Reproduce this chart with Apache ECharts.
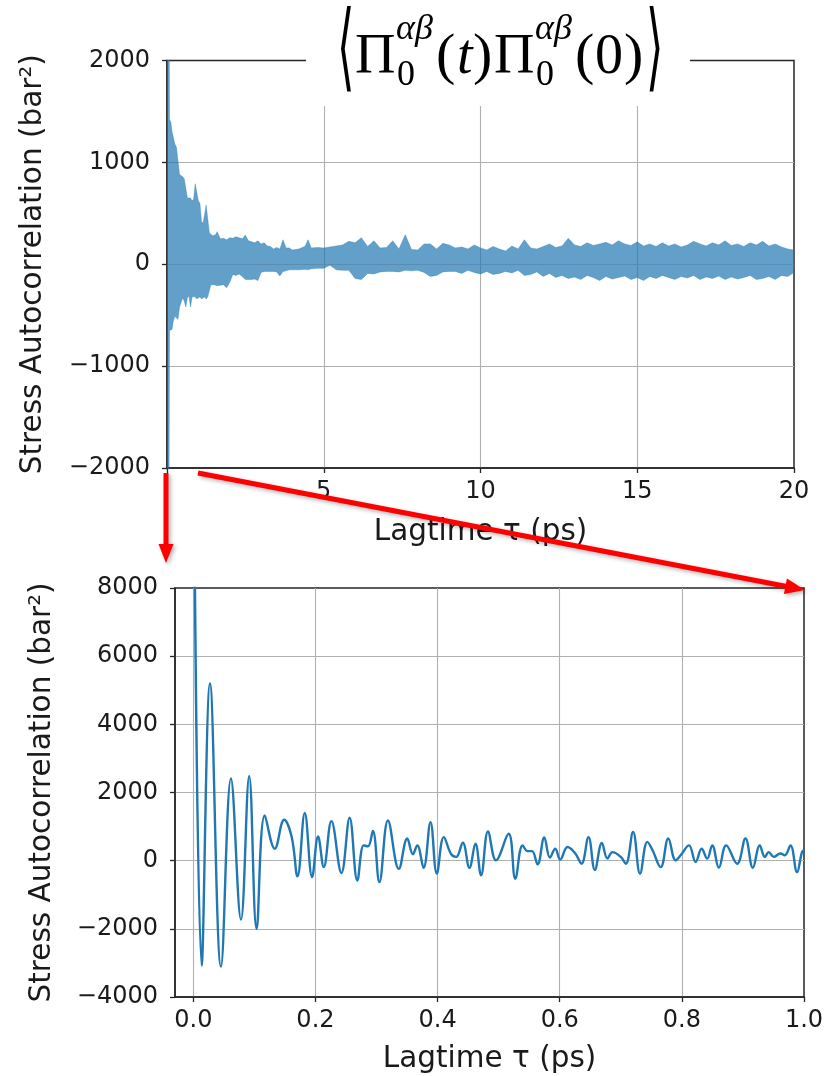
<!DOCTYPE html>
<html>
<head>
<meta charset="utf-8">
<script src="https://cdn.jsdelivr.net/npm/echarts@6.0.0/dist/echarts.min.js"></script>
<style>
html,body{margin:0;padding:0;background:#ffffff;}
#chart{width:827px;height:1076px;}
</style>
</head>
<body>
<div id="chart"></div>
<script>
// ---------- DATA ----------
// Top panel: envelope (upper / lower edge) of the dense autocorrelation trace, 0-20 ps
const topTime = [0.00,0.04,0.08,0.12,0.16,0.20,0.25,0.30,0.35,0.40,0.45,0.50,0.55,0.60,0.65,0.70,0.75,0.80,0.85,0.90,0.95,1.00,1.05,1.10,1.15,1.20,1.25,1.30,1.35,1.40,1.45,1.50,1.55,1.60,1.65,1.70,1.80,1.90,2.00,
  2.1,2.2,2.3,2.4,2.5,2.6,2.7,2.8,2.9,3.0,3.1,3.2,3.3,3.4,3.5,3.6,3.7,3.8,3.9,4.0,4.2,4.4,4.5,4.6,4.8,5.0,5.2,5.4,5.6,5.8,6.0,6.2,6.4,6.6,6.8,7.0,7.2,7.4,7.6,7.8,8.0,8.2,8.4,8.6,8.8,9.0,9.2,9.4,9.6,9.8,
  10.0,10.2,10.4,10.6,10.8,11.0,11.2,11.4,11.6,11.8,12.0,12.2,12.4,12.6,12.8,13.0,13.2,13.4,13.6,13.8,14.0,14.2,14.4,14.6,14.8,15.0,15.2,15.4,15.6,15.8,16.0,16.2,16.4,16.6,16.8,17.0,17.2,17.4,17.6,17.8,18.0,18.2,18.4,18.6,18.8,19.0,19.2,19.4,19.6,19.8,20.0];
const topHigh = [9000,9000,1420,1400,1300,1250,1180,1150,1150,880,870,860,840,830,650,640,650,620,640,790,780,620,600,420,400,410,580,570,310,300,280,270,290,320,330,250,255,240,260,
  255,270,260,250,285,230,220,210,230,200,210,180,175,150,165,150,240,160,160,140,150,175,240,160,165,160,170,180,190,225,210,260,175,230,160,165,230,150,290,145,140,200,200,150,205,190,160,170,150,190,
  160,140,175,150,130,180,150,240,160,150,175,200,165,180,255,190,175,210,185,200,215,190,230,200,185,220,180,200,175,210,180,200,170,190,225,200,180,210,190,230,185,200,175,210,190,225,180,200,170,150,140];
const topLow = [-9000,-9000,-650,-640,-640,-560,-510,-520,-540,-420,-430,-330,-360,-420,-330,-310,-420,-320,-330,-320,-340,-330,-320,-340,-330,-320,-340,-320,-310,-200,-210,-200,-190,-210,-200,-205,-200,-230,-180,
  -100,-110,-95,-120,-150,-150,-150,-145,-160,-80,-70,-70,-70,-70,-75,-115,-70,-65,-55,-55,-55,-50,-55,-45,-40,-40,-10,-55,-60,-60,-140,-150,-90,-95,-75,-70,-70,-75,-60,-65,-60,-80,-120,-110,-75,-70,-70,-90,-60,-80,
  -95,-70,-100,-90,-70,-85,-60,-110,-100,-75,-120,-90,-130,-110,-140,-125,-150,-110,-130,-160,-120,-145,-130,-115,-150,-130,-160,-120,-140,-110,-130,-150,-120,-135,-110,-150,-125,-140,-115,-150,-125,-145,-130,-110,-150,-140,-120,-150,-110,-120,-80];

// Bottom panel: first picosecond of the same autocorrelation (peaks and troughs)
const zoomTime = [0.000,0.0137,0.0273,0.0453,0.0616,0.0780,0.0915,0.1036,0.1170,0.1335,0.1487,0.1610,0.1706,0.1825,0.1945,0.2043,0.2136,0.2261,0.2425,0.2560,
  0.2686,0.2790,0.2860,0.2940,0.3047,0.3187,0.3366,0.3503,0.3595,0.3667,0.3770,0.3884,0.3987,0.4102,0.4222,0.4304,0.4412,0.4521,0.4620,0.4712,
  0.4825,0.4957,0.5163,0.5273,0.5392,0.5474,0.5546,0.5637,0.5747,0.5840,0.5926,0.6008,0.6128,0.6253,0.6356,0.6471,0.6575,0.6690,0.6781,0.6863,
  0.7000,0.7082,0.7201,0.7315,0.7435,0.7516,0.7653,0.7778,0.7899,0.7980,0.8116,0.8225,0.8324,0.8415,0.8497,0.8606,0.8725,0.8905,0.9042,0.9162,
  0.9276,0.9358,0.9423,0.9505,0.9614,0.9685,0.9778,0.9886,0.9967,1.0000];
const zoomValue = [14000,-3080,5200,-3110,2410,-1730,2480,-2000,1330,350,1200,700,-460,1400,-480,710,-190,1160,-360,1260,
  -580,450,420,870,-630,1180,-240,650,190,450,-210,1130,-380,690,190,110,530,-210,500,-430,
  855,10,790,-530,450,280,280,-110,680,90,350,30,400,220,-90,690,-270,520,60,250,
  110,-90,840,-380,550,320,-190,650,10,160,450,-40,350,60,450,-210,450,-90,650,-210,
  450,110,250,110,210,160,450,-340,250,300];

// Tick labels
const topXTickValues = [5, 10, 15, 20];
const topXTickLabels = ['5', '10', '15', '20'];
const topYTickValues = [-2000, -1000, 0, 1000, 2000];
const topYTickLabels = ['\u22122000', '\u22121000', '0', '1000', '2000'];
const zoomXTickValues = [0, 0.2, 0.4, 0.6, 0.8, 1.0];
const zoomXTickLabels = ['0.0', '0.2', '0.4', '0.6', '0.8', '1.0'];
const zoomYTickValues = [-4000, -2000, 0, 2000, 4000, 6000, 8000];
const zoomYTickLabels = ['\u22124000', '\u22122000', '0', '2000', '4000', '6000', '8000'];

const xName = 'Lagtime \u03c4 (ps)';
const yName = 'Stress Autocorrelation (bar\u00b2)';

// ---------- CHART ----------
const FONT = 'DejaVu Sans';
const INK = '#1a1a1a';
const SPINE = '#262626';
const SERIF = 'Liberation Serif';
const TICK_FS = 24;

function lookup(values, labels) {
  return function (v) {
    for (let i = 0; i < values.length; i++) {
      if (Math.abs(values[i] - v) < 1e-6) return labels[i];
    }
    return '';
  };
}

function axisCommon() {
  return {
    type: 'value',
    axisLine: { show: true, onZero: false, lineStyle: { color: SPINE, width: 1.5 } },
    axisTick: { show: true, inside: false, length: 5, lineStyle: { color: SPINE, width: 1.3 } },
    splitLine: { show: true, showMinLine: false, showMaxLine: false, lineStyle: { color: '#b0b0b0', width: 1.1 } },
    nameMoveOverlap: false,
    nameLocation: 'middle',
    nameTextStyle: { fontFamily: FONT, fontSize: 29.5, color: INK }
  };
}

const chart = echarts.init(document.getElementById('chart'), null, { renderer: 'canvas' });

const textBase = { fill: '#000', textAlign: 'left', textVerticalAlign: 'middle', align: 'left', verticalAlign: 'middle' };
function tx(x, y, text, extra, transform) {
  return Object.assign({ type: 'text', z: 101, x: x, y: y, style: Object.assign({ text: text }, textBase, extra) }, transform || {});
}
const arrowShadow = { shadowBlur: 4, shadowColor: 'rgba(0,0,0,0.3)', shadowOffsetX: 2, shadowOffsetY: 2 };

const option = {
  backgroundColor: '#ffffff',
  animation: false,
  grid: [
    { left: 167, right: 33, top: 60.5, bottom: 608, show: true, borderColor: SPINE, borderWidth: 1.5, outerBoundsMode: 'none', containLabel: false },
    { left: 175, right: 23, top: 588, bottom: 79, show: true, borderColor: SPINE, borderWidth: 1.5, outerBoundsMode: 'none', containLabel: false }
  ],
  xAxis: [
    Object.assign(axisCommon(), {
      gridIndex: 0, min: 0, max: 20, interval: 5,
      name: xName, nameGap: 49,
      axisLabel: { margin: 12, fontFamily: FONT, fontSize: TICK_FS, color: INK, formatter: lookup(topXTickValues, topXTickLabels) }
    }),
    Object.assign(axisCommon(), {
      gridIndex: 1, min: -0.03, max: 1.0, splitNumber: 5,
      name: xName, nameGap: 47,
      axisLabel: { margin: 12, fontFamily: FONT, fontSize: TICK_FS, color: INK, showMinLabel: false, formatter: lookup(zoomXTickValues, zoomXTickLabels) }
    })
  ],
  yAxis: [
    Object.assign(axisCommon(), {
      gridIndex: 0, min: -2000, max: 2000, interval: 1000,
      name: yName, nameGap: 119, nameRotate: 90,
      axisLabel: { margin: 17, fontFamily: FONT, fontSize: TICK_FS, color: INK, formatter: lookup(topYTickValues, topYTickLabels) }
    }),
    Object.assign(axisCommon(), {
      gridIndex: 1, min: -4000, max: 8000, interval: 2000,
      name: yName, nameGap: 118, nameRotate: 90,
      axisLabel: { margin: 17, fontFamily: FONT, fontSize: TICK_FS, color: INK, formatter: lookup(zoomYTickValues, zoomYTickLabels) }
    })
  ],
  series: [
    {
      name: 'upper', type: 'line', xAxisIndex: 0, yAxisIndex: 0,
      data: topTime.map((t, i) => [t, topHigh[i]]),
      showSymbol: false, silent: true, clip: true,
      lineStyle: { color: '#1f77b4', opacity: 0.35, width: 1 },
      areaStyle: { color: '#1f77b4', opacity: 0.7, origin: 'auto' }
    },
    {
      name: 'lower', type: 'line', xAxisIndex: 0, yAxisIndex: 0,
      data: topTime.map((t, i) => [t, topLow[i]]),
      showSymbol: false, silent: true, clip: true,
      lineStyle: { color: '#1f77b4', opacity: 0.35, width: 1 },
      areaStyle: { color: '#1f77b4', opacity: 0.7, origin: 'auto' }
    },
    {
      name: 'zoom', type: 'line', xAxisIndex: 1, yAxisIndex: 1,
      data: zoomTime.map((t, i) => [t, zoomValue[i]]),
      smooth: 0.4, showSymbol: false, silent: true, clip: true,
      lineStyle: { color: '#1f77b4', width: 2.4 }
    }
  ],
  graphic: {
    elements: [
      // white box behind the title (interrupts the top spine)
      { type: 'rect', z: 100, shape: { x: 306, y: 0, width: 384, height: 106 }, style: { fill: '#ffffff' } },
      // title formula  <Pi_0^{ab}(t) Pi_0^{ab}(0)>
      tx(337, 54, '\u27e8', { fontFamily: FONT, fontSize: 64 }, { scaleX: 0.7, scaleY: 1.5 }),
      tx(355, 58, '\u03a0', { fontFamily: SERIF, fontSize: 56 }),
      tx(396, 30, '\u03b1\u03b2', { fontFamily: SERIF, fontStyle: 'italic', fontSize: 36 }),
      tx(397, 76, '0', { fontFamily: SERIF, fontSize: 36 }),
      tx(436, 58, '(', { fontFamily: SERIF, fontSize: 58 }),
      tx(457, 58, 't', { fontFamily: SERIF, fontStyle: 'italic', fontSize: 56 }),
      tx(473, 58, ')', { fontFamily: SERIF, fontSize: 58 }),
      tx(494, 58, '\u03a0', { fontFamily: SERIF, fontSize: 56 }),
      tx(535, 30, '\u03b1\u03b2', { fontFamily: SERIF, fontStyle: 'italic', fontSize: 36 }),
      tx(536, 76, '0', { fontFamily: SERIF, fontSize: 36 }),
      tx(575, 58, '(', { fontFamily: SERIF, fontSize: 58 }),
      tx(595, 58, '0', { fontFamily: SERIF, fontSize: 56 }),
      tx(624, 58, ')', { fontFamily: SERIF, fontSize: 58 }),
      tx(646, 54, '\u27e9', { fontFamily: FONT, fontSize: 64 }, { scaleX: 0.7, scaleY: 1.5 }),
      // red arrows
      { type: 'line', z: 110, shape: { x1: 166, y1: 473, x2: 166, y2: 548 },
        style: Object.assign({ stroke: '#ff0000', lineWidth: 5 }, arrowShadow) },
      { type: 'polygon', z: 110, shape: { points: [[158.5, 544], [173.5, 544], [166, 563]] },
        style: Object.assign({ fill: '#ff0000' }, arrowShadow) },
      { type: 'line', z: 110, shape: { x1: 198, y1: 473, x2: 788, y2: 586.7 },
        style: Object.assign({ stroke: '#ff0000', lineWidth: 5 }, arrowShadow) },
      { type: 'polygon', z: 110, shape: { points: [[783.9, 594.1], [786.9, 578.4], [805, 590]] },
        style: Object.assign({ fill: '#ff0000' }, arrowShadow) }
    ]
  }
};

chart.setOption(option);
</script>
</body>
</html>
